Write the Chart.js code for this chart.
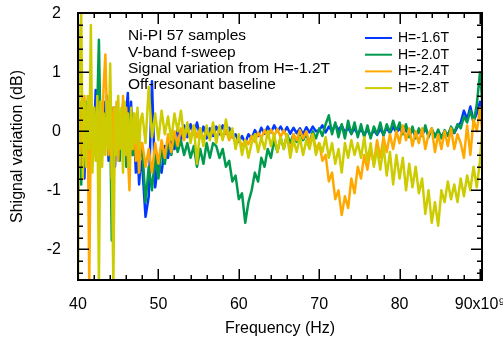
<!DOCTYPE html>
<html>
<head>
<meta charset="utf-8">
<script src="https://cdn.jsdelivr.net/npm/chart.js@4.4.1/dist/chart.umd.min.js"></script>
<style>
  html, body { margin: 0; padding: 0; background: #fff; }
</style>
</head>
<body>
<canvas id="chart" width="503" height="344"></canvas>
<script>
// frequency grid (GHz): 0.2 GHz steps up to 48 GHz (the noisy start), then 0.4 GHz steps
const freqStartGHz = 40;
const denseStepGHz = 0.2;
const denseCount = 40;
const coarseStepGHz = 0.4;

const seriesLabels = ['H=-1.6T', 'H=-2.0T', 'H=-2.4T', 'H=-2.8T'];
const seriesColors = ['#0038ff', '#009a4e', '#ffa800', '#cccc00'];

// signal variation (dB)
const h16 = [
  -0.5, 0.2, -0.3, 0.4, -0.8, 0.1, -0.2, 0.35, -0.4, 0.2, -0.1, 0.7, 0.1, -0.4, 0.3, -0.2, 0.5, -0.1, 0.3, -0.5,
  0.2, -0.3, 0.4, -0.6, 0.1, -0.3, 0.3, -0.2, 0.45, -0.1, 0.3, 0.65, -0.2, 0.5, -0.4, -0.1, -0.7, -0.3, -0.9, -0.5,
  -0.6, -1.45, -1.1, 0.85, -0.95, -0.5, -0.7, -0.25, -0.45, -0.1, -0.3,
  0.05, -0.15, 0.1, -0.1, 0.12, -0.05, 0.15, -0.1, 0.08, -0.12, 0.05, -0.08,
  0.08, -0.05, 0.1, -0.04, 0.06, -0.1, -0.05, -0.18, -0.08, -0.2, -0.05, -0.12, 0.02, -0.08, 0.06, -0.04,
  0.08, -0.02, 0.1, 0.0, 0.08, -0.02, 0.07, -0.04, 0.06, -0.03, 0.05, -0.05, 0.07, -0.02, 0.08, 0.0,
  0.02, 0.1, -0.02, 0.08, 0.0, 0.12, 0.02, 0.1, -0.02, 0.06, -0.04, 0.05, -0.05, 0.04, -0.06, 0.03,
  -0.08, 0.02, -0.06, 0.04, -0.05, 0.06, -0.03, 0.08, -0.02, 0.05, -0.04, 0.03, -0.06, 0.02, -0.08, 0.0,
  -0.05, 0.04, -0.06, 0.02, -0.07, -0.01, -0.08, -0.02, -0.06, 0.05, -0.03, 0.08, 0.15, 0.35, 0.2, 0.42,
  0.18, 0.3, 0.5, 0.2
];
const h20 = [
  0.3, -0.4, -0.9, 0.2, -0.2, 0.5, -0.5, 0.1, 0.5, -0.3, 0.2, -0.4, 0.4, 1.55, 0.0, -0.4, 0.3, -0.2, 0.6, -0.3,
  0.2, -1.85, -0.4, 0.4, -0.3, 0.3, -0.5, 0.2, -0.2, 0.4, -0.6, 0.3, -0.2, 0.35, -0.4, 0.1, -0.5, -0.1, -0.7, -0.3,
  -0.3, -1.2, -0.6, -1.0, -0.4, -0.8, -0.3, -0.55, -0.15, -0.4, -0.1, -0.35, -0.15,
  -0.4, -0.2, -0.45, -0.25, -0.6, -0.3, -0.55, -0.2, -0.45, -0.2,
  -0.25, -0.45, -0.3, -0.6, -0.5, -0.85, -0.75, -1.15, -1.05, -1.55, -1.2, -1.0, -0.7, -0.85, -0.45,
  -0.6, -0.3, -0.45, -0.15, -0.35, -0.1, -0.3,
  -0.05, -0.2, -0.05, -0.18, -0.02, -0.15, -0.05, -0.2, 0.0, -0.12, 0.05, -0.08, 0.12, 0.27, -0.05,
  0.15, -0.1, 0.12, -0.12, 0.18, -0.05, 0.15, -0.1,
  0.12, -0.1, 0.1, -0.12, 0.08, -0.05, 0.15, -0.08, 0.12, -0.02, 0.18, 0.0, 0.15, -0.05, 0.12, -0.1,
  0.08, -0.12, 0.05, -0.08, 0.1, -0.1, 0.05, -0.1, 0.03, -0.12, 0.02, -0.08, 0.08, -0.02, 0.12, 0.05,
  0.25, 0.15, 0.35, 0.15, 0.45, 1.0, 0.3
];
const h24 = [
  0.2, -0.6, 0.5, -0.3, 0.6, -0.4, 0.3, -2.6, 0.2, -0.5, 0.4, -0.3, 0.3, -0.6, 0.5, 0.0, 0.8, 1.3, 0.3, -0.4,
  0.5, -0.8, 0.4, -0.3, 0.5, -0.5, 0.3, -0.2, 0.6, -0.3, 0.4, -0.4, -1.0, 0.2, -0.3, 0.3, -0.5, -0.1, -0.7, -0.2,
  -0.2, -0.6, -0.3, -0.7, -0.2, -0.55, -0.15, -0.45, -0.05, -0.35, 0.0, -0.25,
  0.05, -0.15, 0.08, -0.12, 0.1, -0.1, 0.05, -0.15, 0.02, -0.12, 0.04, -0.1, 0.05, -0.12, 0.02, -0.15,
  -0.05, -0.2, -0.12, -0.25, -0.15, -0.22, -0.08, -0.18, -0.02, -0.12, 0.02, -0.1, 0.03, -0.08, 0.04,
  -0.1, 0.02,
  -0.12, -0.35, -0.05, -0.15, 0.02, -0.12, 0.0, -0.2, -0.05, -0.3,
  -0.2, -0.5, -0.4, -0.85, -0.7, -1.15, -1.0, -1.42, -1.1, -1.3, -0.8, -1.05, -0.6, -0.8, -0.4, -0.65,
  -0.3, -0.55, -0.15, -0.45, -0.1, -0.35, -0.05, -0.3, 0.0, -0.2, 0.1, -0.15, 0.05, -0.25, 0.0, -0.2,
  0.05, -0.3, -0.05,
  0.05, -0.35, -0.05, -0.3, 0.0, -0.25, 0.05, -0.3, -0.05, -0.2, -0.45, 0.1, -0.4, 0.2, 0.0, 0.4, -0.2
];
const h28 = [
  -2.6, 1.4, 2.0, -0.8, 0.5, -0.6, 0.6, -0.3, 1.8, -0.7, 0.4, -0.5, 0.6, -2.6, 0.5, -0.6, 0.3, -0.4, 0.5, -0.3,
  1.15, -0.5, -2.6, 0.4, -0.4, 0.6, -0.3, 0.4, -0.7, 0.5, -0.4, 0.3, -0.6, 0.4, -0.3, 0.3, -0.2, 0.4, -0.3, 0.2,
  0.3, -0.2, 0.75, -0.1, 0.3, -0.15, 0.35, -0.05, 0.25, -0.15, 0.3, 0.0, 0.35, -0.1, 0.15,
  -0.2, 0.1, -0.55, 0.05, -0.25, 0.1, -0.15, 0.15,
  -0.2, 0.1, -0.15, 0.2, -0.1, 0.05, -0.3, -0.05, -0.4, -0.15, -0.45, -0.2, -0.05, -0.35, -0.1, -0.3,
  0.0, -0.25, -0.05, -0.35, -0.1, -0.3,
  -0.05, -0.45, -0.15, -0.35, -0.1, -0.4, -0.15, -0.3, -0.05, -0.4, -0.2, -0.35, -0.1, -0.45, -0.2,
  -0.55, -0.3, -0.7, -0.2, -0.45, -0.15, -0.4, -0.2,
  -0.45, -0.1, -0.5, -0.2, -0.6, -0.3, -0.65, -0.25, -0.75, -0.35, -0.9, -0.4, -0.8, -0.45, -1.0, -0.55,
  -0.95, -0.6, -1.05, -0.8, -1.4, -1.0, -1.55, -1.2, -1.6, -1.0, -1.2, -0.85, -1.15, -0.9, -1.2, -0.8,
  -1.1, -0.75, -1.0, -0.6, -0.95, -0.5, 0.3
];
const seriesValues = [h16, h20, h24, h28];

const xTicks = [40, 50, 60, 70, 80, 90];
const yTicks = [-2, -1, 0, 1, 2];
const notes = ['Ni-PI 57 samples', 'V-band f-sweep', 'Signal variation from H=-1.2T', 'Off-resonant baseline'];

const FAMILY = '"Liberation Sans", Arial, Helvetica, sans-serif';
const axisFont = { family: FAMILY, size: 16 };

function freqAt(j) {
  if (j < denseCount) return freqStartGHz + j * denseStepGHz;
  return freqStartGHz + denseCount * denseStepGHz + (j - denseCount) * coarseStepGHz;
}

// frame, inward ticks on all four sides, text block and legend
const decorations = {
  id: 'decorations',
  afterDatasetsDraw(chart) {
    const { ctx, chartArea: a, scales: { x, y } } = chart;
    ctx.save();
    ctx.strokeStyle = '#000';
    ctx.lineWidth = 2;
    ctx.strokeRect(a.left, a.top, a.right - a.left, a.bottom - a.top);

    ctx.lineWidth = 1.5;
    ctx.beginPath();
    for (let f = 40; f <= 90; f += 2) {
      const px = Math.round(x.getPixelForValue(f)) + 0.25;
      const len = f % 10 === 0 ? 11 : 5;
      ctx.moveTo(px, a.bottom); ctx.lineTo(px, a.bottom - len);
      ctx.moveTo(px, a.top); ctx.lineTo(px, a.top + len);
    }
    for (let k = -12; k <= 10; k++) {
      const py = Math.round(y.getPixelForValue(k / 5)) + 0.25;
      const len = k % 5 === 0 ? 11 : 5;
      ctx.moveTo(a.left, py); ctx.lineTo(a.left + len, py);
      ctx.moveTo(a.right, py); ctx.lineTo(a.right - len, py);
    }
    ctx.stroke();

    ctx.fillStyle = '#000';
    ctx.textBaseline = 'middle';
    ctx.textAlign = 'left';
    ctx.font = '15.5px ' + FAMILY;
    notes.forEach((t, i) => ctx.fillText(t, 128, 36 + i * 16.4));

    ctx.font = '14px ' + FAMILY;
    ctx.lineWidth = 2;
    chart.data.datasets.forEach((ds, i) => {
      const ly = 38 + i * 16.7;
      ctx.strokeStyle = ds.borderColor;
      ctx.beginPath();
      ctx.moveTo(365, ly); ctx.lineTo(392, ly);
      ctx.stroke();
      ctx.fillText(ds.label, 398, ly);
    });
    ctx.restore();
  }
};

new Chart(document.getElementById('chart'), {
  type: 'line',
  data: {
    datasets: seriesLabels.map((label, i) => ({
      label,
      data: seriesValues[i].map((v, j) => ({ x: freqAt(j), y: v })),
      borderColor: seriesColors[i],
      borderWidth: 2.5,
      borderJoinStyle: 'round',
      pointRadius: 0,
      tension: 0,
      order: seriesLabels.length - i
    }))
  },
  options: {
    responsive: false,
    animation: false,
    devicePixelRatio: 1,
    layout: { padding: { top: 13, right: 21, left: 0, bottom: 0 } },
    plugins: { legend: { display: false }, tooltip: { enabled: false } },
    scales: {
      x: {
        type: 'linear',
        min: 40,
        max: 90.25,
        grid: { display: false },
        border: { display: false },
        afterBuildTicks: s => { s.ticks = xTicks.map(v => ({ value: v })); },
        afterFit: s => { s.height = 64; s.paddingLeft = 0; s.paddingRight = 0; },
        ticks: {
          font: axisFont, color: '#000', padding: 7, maxRotation: 0, autoSkip: false,
          callback: v => (v === 90 ? '90x10\u2079' : String(v))
        },
        title: { display: true, text: 'Frequency (Hz)', font: axisFont, color: '#000', padding: { top: 0, bottom: 6 } }
      },
      y: {
        min: -2.52,
        max: 2.005,
        grid: { display: false },
        border: { display: false },
        afterBuildTicks: s => { s.ticks = yTicks.map(v => ({ value: v })); },
        afterFit: s => { s.width = 78; s.paddingTop = 0; s.paddingBottom = 0; },
        ticks: { font: axisFont, color: '#000', padding: 9, callback: v => String(v) },
        title: { display: true, text: 'Shignal variation (dB)', font: axisFont, color: '#000', padding: { top: 8, bottom: 0 } }
      }
    }
  },
  plugins: [decorations]
});
</script>
</body>
</html>
